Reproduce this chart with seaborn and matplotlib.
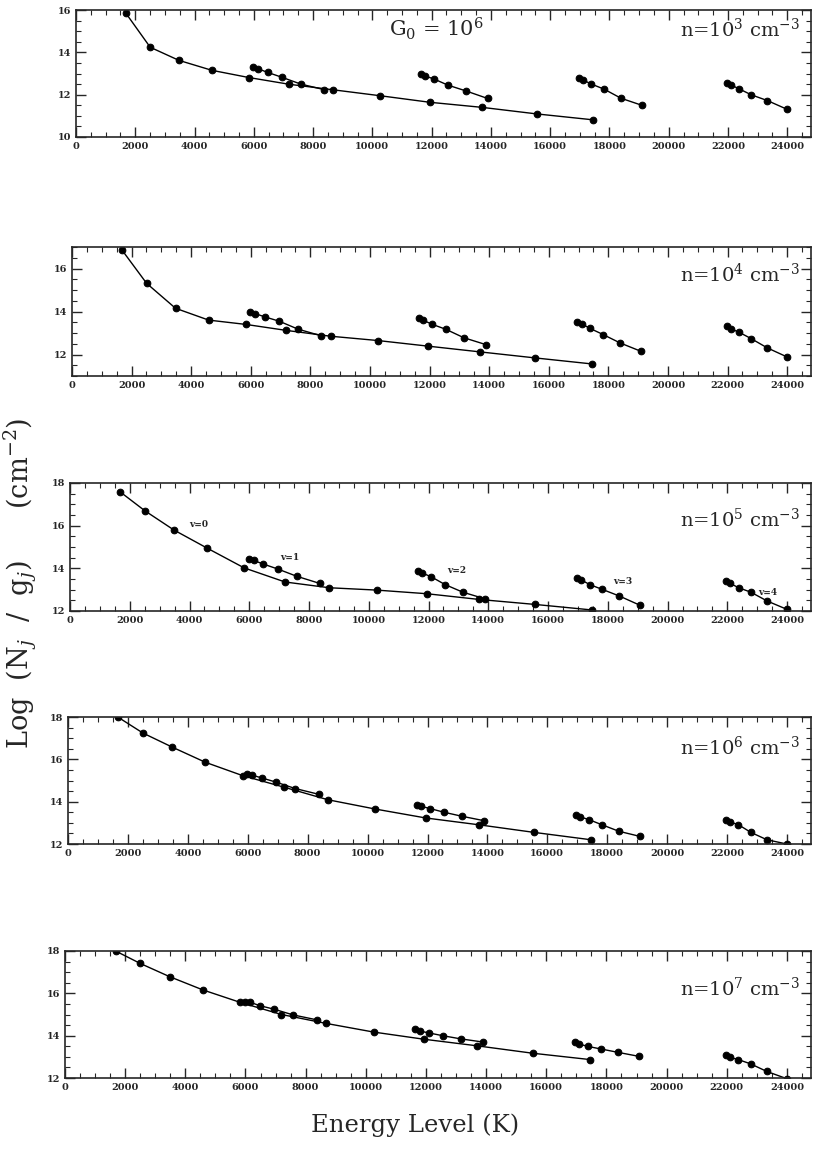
import numpy as np
import pandas as pd
import matplotlib
matplotlib.use("Agg")
import matplotlib.pyplot as plt
from matplotlib.ticker import MultipleLocator
import seaborn as sns

# energy levels of each vibrational ladder (K)
E_v0 = [1682, 2504, 3474, 4586, 5830, 7197, 8677, 10261, 11940, 13703, 15549, 17458]
E_v1 = [5987, 6149, 6471, 6951, 7584, 8365]
E_v2 = [11635, 11789, 12095, 12550, 13150, 13890]
E_v3 = [16960, 17100, 17390, 17820, 18390, 19090]
E_v4 = [21970, 22100, 22380, 22790, 23330, 23990]

# log column densities
n3_v0 = [15.85, 14.24, 13.62, 13.15, 12.81, 12.49, 12.23, 11.95, 11.64, 11.40, 11.09, 10.81]
n3_v1 = [13.32, 13.22, 13.05, 12.82, 12.50, 12.24]
n3_v2 = [12.96, 12.88, 12.73, 12.45, 12.18, 11.82]
n3_v3 = [12.80, 12.70, 12.50, 12.26, 11.83, 11.50]
n3_v4 = [12.57, 12.46, 12.27, 11.99, 11.72, 11.31]

n4_v0 = [16.85, 15.31, 14.15, 13.60, 13.40, 13.12, 12.85, 12.65, 12.39, 12.12, 11.84, 11.56]
n4_v1 = [14.00, 13.90, 13.75, 13.55, 13.18, 12.87]
n4_v2 = [13.68, 13.59, 13.40, 13.17, 12.78, 12.46]
n4_v3 = [13.52, 13.43, 13.21, 12.93, 12.54, 12.15]
n4_v4 = [13.32, 13.20, 13.04, 12.74, 12.31, 11.89]

n5_v0 = [17.58, 16.70, 15.80, 14.95, 14.02, 13.36, 13.09, 12.98, 12.81, 12.54, 12.31, 12.05]
n5_v1 = [14.45, 14.37, 14.20, 13.97, 13.63, 13.29]
n5_v2 = [13.86, 13.78, 13.60, 13.24, 12.88, 12.57]
n5_v3 = [13.55, 13.47, 13.24, 13.01, 12.70, 12.26]
n5_v4 = [13.40, 13.29, 13.09, 12.88, 12.47, 12.08]

n6_v0 = [17.98, 17.24, 16.58, 15.86, 15.23, 14.69, 14.09, 13.65, 13.23, 12.91, 12.55, 12.20]
n6_v1 = [15.30, 15.25, 15.12, 14.92, 14.62, 14.35]
n6_v2 = [13.86, 13.78, 13.67, 13.50, 13.31, 13.10]
n6_v3 = [13.39, 13.28, 13.15, 12.91, 12.60, 12.36]
n6_v4 = [13.15, 13.04, 12.91, 12.55, 12.20, 12.00]

n7_v0 = [18.00, 17.41, 16.79, 16.16, 15.57, 15.00, 14.58, 14.17, 13.83, 13.52, 13.17, 12.87]
n7_v1 = [15.60, 15.58, 15.42, 15.25, 14.98, 14.75]
n7_v2 = [14.30, 14.22, 14.13, 14.00, 13.85, 13.70]
n7_v3 = [13.68, 13.60, 13.49, 13.37, 13.21, 13.02]
n7_v4 = [13.09, 12.98, 12.87, 12.67, 12.31, 11.97]

density_labels = [r'n=10$^3$ cm$^{-3}$', r'n=10$^4$ cm$^{-3}$', r'n=10$^5$ cm$^{-3}$',
                  r'n=10$^6$ cm$^{-3}$', r'n=10$^7$ cm$^{-3}$']
y_limits = [(10, 16), (11, 17), (12, 18), (12, 18), (12, 18)]
v_labels = ['v=0', 'v=1', 'v=2', 'v=3', 'v=4']
v_label_x = [4300, 7350, 12950, 18500, 23350]
v_label_y = [16.05, 14.5, 13.9, 13.4, 12.85]

energies = [E_v0, E_v1, E_v2, E_v3, E_v4]
panels = [
    [n3_v0, n3_v1, n3_v2, n3_v3, n3_v4],
    [n4_v0, n4_v1, n4_v2, n4_v3, n4_v4],
    [n5_v0, n5_v1, n5_v2, n5_v3, n5_v4],
    [n6_v0, n6_v1, n6_v2, n6_v3, n6_v4],
    [n7_v0, n7_v1, n7_v2, n7_v3, n7_v4],
]

rows = []
for p, series in enumerate(panels):
    for v, (E, logn) in enumerate(zip(energies, series)):
        for e, y in zip(E, logn):
            rows.append({'panel': p, 'v': v, 'E': e, 'logN': y})
df = pd.DataFrame(rows)

sns.set_style("ticks")
plt.rcParams['font.family'] = ['DejaVu Serif']
plt.rcParams['mathtext.fontset'] = 'dejavuserif'

fig = plt.figure(figsize=(8.14, 11.54), dpi=100)
W, H = 814.0, 1154.0
# axes boxes in pixels: left, top, bottom
boxes = [(76, 10, 137), (72, 247, 376), (70, 483, 611), (68, 717, 844), (65, 951, 1078)]
right = 811
label_y = [0.85, 0.79, 0.72, 0.76, 0.71]

for p, (l, t, b) in enumerate(boxes):
    ax = fig.add_axes([l / W, 1 - b / H, (right - l) / W, (b - t) / H])
    sub = df[df['panel'] == p]
    sns.lineplot(data=sub, x='E', y='logN', units='v', estimator=None, sort=False,
                 color='black', lw=1.0, marker='o', markersize=4.8,
                 markeredgecolor='black', ax=ax, legend=False)
    ax.set_xlim(0, 24800)
    ax.set_ylim(*y_limits[p])
    ax.xaxis.set_major_locator(MultipleLocator(2000))
    ax.xaxis.set_minor_locator(MultipleLocator(500))
    ax.yaxis.set_major_locator(MultipleLocator(2))
    ax.yaxis.set_minor_locator(MultipleLocator(0.5))
    ax.tick_params(which='both', direction='in', top=True, right=True, labelsize=7)
    ax.tick_params(which='major', length=7, width=1)
    ax.tick_params(which='minor', length=3.5, width=0.8)
    for lab in ax.get_xticklabels() + ax.get_yticklabels():
        lab.set_fontweight('bold')
    for s in ax.spines.values():
        s.set_linewidth(1.2)
    ax.set_xlabel('')
    ax.set_ylabel('')
    ax.text(0.985, label_y[p], density_labels[p], transform=ax.transAxes, ha='right',
            va='center', fontsize=14)
    if p == 0:
        ax.text(0.49, label_y[p], r'G$_0$ = 10$^6$', transform=ax.transAxes, ha='center',
                va='center', fontsize=15)
    if p == 2:
        for txt, x, y in zip(v_labels, v_label_x, v_label_y):
            ax.text(x, y, txt, fontsize=6.5, fontweight='bold', ha='center', va='center')

fig.text(415 / W, 1 - 1125 / H, 'Energy Level (K)', ha='center', va='center', fontsize=17.5)
fig.text(20 / W, 1 - 583 / H, r'Log  (N$_j$  /  g$_j$)      (cm$^{-2}$)', rotation=90,
         ha='center', va='center', fontsize=19.5)

fig.savefig('out.png', dpi=100)
